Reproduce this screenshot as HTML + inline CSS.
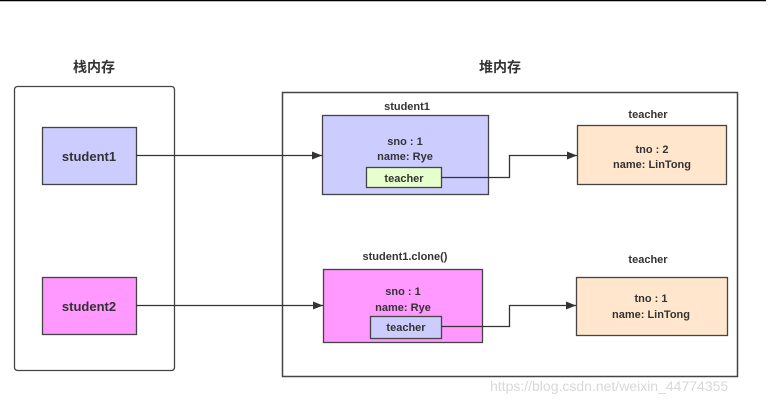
<!DOCTYPE html>
<html><head><meta charset="utf-8"><style>
html,body{margin:0;padding:0;background:#fff;width:770px;height:405px;overflow:hidden}
svg text{font-family:"Liberation Sans","Noto Sans CJK SC",sans-serif;font-weight:bold;fill:#333}
</style></head><body>
<svg width="770" height="405" xmlns="http://www.w3.org/2000/svg">
<defs><marker id="a" markerWidth="10" markerHeight="8" refX="10" refY="4" orient="auto" markerUnits="userSpaceOnUse"><path d="M0,0 L10,4 L0,8 z" fill="#333"/></marker></defs>
<line x1="0" y1="0.5" x2="766" y2="0.5" stroke="#000" stroke-width="1.5"/>
<text x="94" y="72" font-size="14" text-anchor="middle">栈内存</text>
<text x="500" y="72" font-size="14" text-anchor="middle">堆内存</text>
<rect x="14.5" y="86.5" width="160" height="284" rx="3" fill="#fff" stroke="#444" stroke-width="1.3"/>
<rect x="282.5" y="92.5" width="455" height="284" fill="#fff" stroke="#444" stroke-width="1.5"/>
<rect x="42.5" y="127.5" width="94" height="57" fill="#ccccff" stroke="#444" stroke-width="1.3"/>
<text x="89" y="161" font-size="13" text-anchor="middle">student1</text>
<rect x="42.5" y="277.5" width="94" height="57" fill="#ff99ff" stroke="#444" stroke-width="1.3"/>
<text x="89" y="311" font-size="13" text-anchor="middle">student2</text>
<line x1="136" y1="155.5" x2="322" y2="155.5" stroke="#333" stroke-width="1.3" marker-end="url(#a)"/>
<line x1="136" y1="305.5" x2="323" y2="305.5" stroke="#333" stroke-width="1.3" marker-end="url(#a)"/>
<text x="407" y="110" font-size="11" text-anchor="middle">student1</text>
<rect x="322.5" y="115.5" width="166" height="79" fill="#ccccff" stroke="#444" stroke-width="1.3"/>
<text x="405" y="145" font-size="11" text-anchor="middle">sno : 1</text>
<text x="405" y="160" font-size="11" text-anchor="middle">name: Rye</text>
<rect x="366.5" y="167.5" width="75" height="20" fill="#e6ffcc" stroke="#444" stroke-width="1.3"/>
<text x="404" y="182" font-size="11" text-anchor="middle">teacher</text>
<text x="648" y="118" font-size="11" text-anchor="middle">teacher</text>
<rect x="577.5" y="125.5" width="149" height="59" fill="#ffe6cc" stroke="#444" stroke-width="1.3"/>
<text x="652" y="153" font-size="11" text-anchor="middle">tno : 2</text>
<text x="652" y="168" font-size="11" text-anchor="middle">name: LinTong</text>
<polyline points="441,177.5 509.5,177.5 509.5,155.5 577,155.5" fill="none" stroke="#333" stroke-width="1.3" marker-end="url(#a)"/>
<text x="405" y="260" font-size="11" text-anchor="middle">student1.clone()</text>
<rect x="323.5" y="269.5" width="159" height="73" fill="#ff99ff" stroke="#444" stroke-width="1.3"/>
<text x="403" y="295" font-size="11" text-anchor="middle">sno : 1</text>
<text x="403" y="311" font-size="11" text-anchor="middle">name: Rye</text>
<rect x="370.5" y="316.5" width="71" height="22" fill="#ccccff" stroke="#444" stroke-width="1.3"/>
<text x="406" y="331" font-size="11" text-anchor="middle">teacher</text>
<text x="648" y="263" font-size="11" text-anchor="middle">teacher</text>
<rect x="576.5" y="277.5" width="151" height="58" fill="#ffe6cc" stroke="#444" stroke-width="1.3"/>
<text x="651" y="302" font-size="11" text-anchor="middle">tno : 1</text>
<text x="651" y="318" font-size="11" text-anchor="middle">name: LinTong</text>
<polyline points="441,326.5 509.5,326.5 509.5,305.5 576,305.5" fill="none" stroke="#333" stroke-width="1.3" marker-end="url(#a)"/>
<text x="490" y="391" font-size="14" font-weight="normal" style="font-weight:normal;fill:#d8d8d8">https://blog.csdn.net/weixin_44774355</text>
</svg>
</body></html>
